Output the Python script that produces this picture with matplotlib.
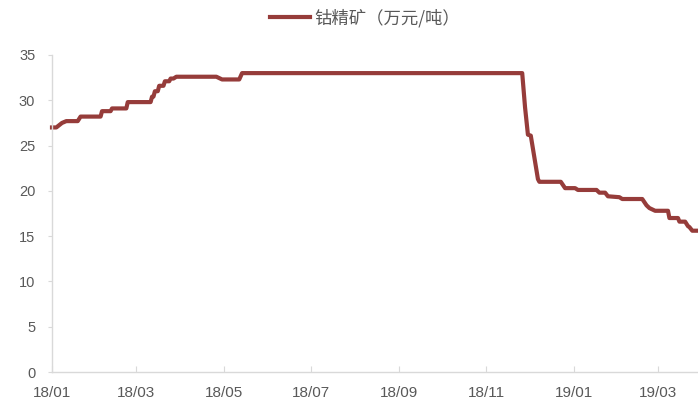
import matplotlib
matplotlib.use("Agg")
import matplotlib.pyplot as plt
import pandas as pd

plt.rcParams['font.family'] = ['Liberation Sans', 'Noto Sans CJK SC', 'DejaVu Sans']

series_name = "钴精矿（万元/吨）"
dates = [
    "2018-01-01", "2018-01-04", "2018-01-08", "2018-01-11", "2018-01-19", "2018-01-21",
    "2018-02-04", "2018-02-05", "2018-02-11", "2018-02-12", "2018-02-22", "2018-02-23",
    "2018-03-11", "2018-03-12", "2018-03-13", "2018-03-14", "2018-03-16", "2018-03-17",
    "2018-03-20", "2018-03-21", "2018-03-24", "2018-03-25", "2018-03-27",
    "2018-03-29", "2018-04-26", "2018-04-30", "2018-05-12", "2018-05-14", "2018-11-26",
    "2018-11-28", "2018-11-30", "2018-12-02", "2018-12-07", "2018-12-08", "2018-12-23",
    "2018-12-26", "2019-01-02", "2019-01-04", "2019-01-17", "2019-01-19", "2019-01-23",
    "2019-01-25", "2019-02-02", "2019-02-04", "2019-02-18", "2019-02-21", "2019-02-23",
    "2019-02-27", "2019-03-08", "2019-03-09", "2019-03-15", "2019-03-16", "2019-03-20",
    "2019-03-22", "2019-03-23", "2019-03-25", "2019-03-28",
]
values = [
    27.0, 27.0, 27.5, 27.7, 27.7, 28.2,
    28.2, 28.8, 28.8, 29.1, 29.1, 29.8,
    29.8, 30.4, 30.4, 31.0, 31.0, 31.6,
    31.6, 32.1, 32.1, 32.4, 32.4,
    32.6, 32.6, 32.3, 32.3, 33.0, 33.0,
    29.2, 26.2, 26.1, 21.3, 21.0, 21.0,
    20.3, 20.3, 20.1, 20.1, 19.8, 19.8,
    19.4, 19.3, 19.1, 19.1, 18.4, 18.1,
    17.8, 17.8, 17.0, 17.0, 16.6, 16.6,
    16.1, 16.0, 15.6, 15.6,
]
x_ticks = ["2018-01-01", "2018-03-01", "2018-05-01", "2018-07-01",
           "2018-09-01", "2018-11-01", "2019-01-01", "2019-03-01"]
x_tick_labels = ["18/01", "18/03", "18/05", "18/07", "18/09", "18/11", "19/01", "19/03"]
y_ticks = [0, 5, 10, 15, 20, 25, 30, 35]

d = pd.to_datetime(dates)

fig = plt.figure(figsize=(6.98, 4.05), dpi=100)
ax = fig.add_axes([52/698, 1-372/405, 1-52/698, (372-55)/405])

ax.plot(d, values, color='#963C3A', linewidth=3.0, solid_joinstyle='round',
        label=series_name, clip_on=False)

ax.set_xlim(pd.Timestamp("2018-01-01"), pd.Timestamp("2019-03-29"))
ax.set_ylim(0, 35)
ax.set_yticks(y_ticks)
ax.set_xticks(pd.to_datetime(x_ticks))
ax.set_xticklabels(x_tick_labels)

for s in ['top', 'right']:
    ax.spines[s].set_visible(False)
for s in ['left', 'bottom']:
    ax.spines[s].set_color('#d9d9d9')
    ax.spines[s].set_linewidth(1.0)

ax.tick_params(axis='x', direction='in', length=4, color='#d9d9d9', pad=10,
               labelsize=11, labelcolor='#595959')
ax.tick_params(axis='y', direction='out', length=3, color='#d9d9d9', pad=9,
               labelsize=10.5, labelcolor='#595959')

leg = fig.legend(loc='center', bbox_to_anchor=(0.523, 0.956), frameon=False,
                 handlelength=2.3, handletextpad=0.3,
                 prop={'family': ['Noto Sans CJK SC', 'DejaVu Sans'], 'size': 12.5})
for t in leg.get_texts():
    t.set_color('#595959')

fig.savefig("out.png", dpi=100)
